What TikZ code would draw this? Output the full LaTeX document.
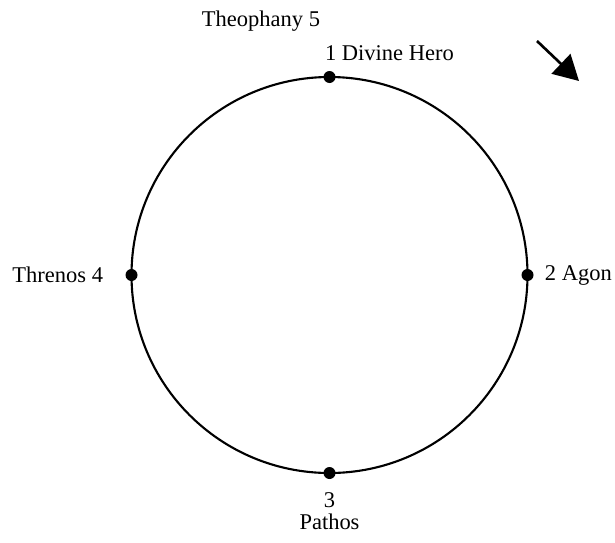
\documentclass[tikz,border=0pt]{standalone}
\usepackage{fontspec}
\setmainfont{Liberation Serif}
\usetikzlibrary{arrows.meta,positioning}
\begin{document}
\begin{tikzpicture}[every node/.style={font=\fontsize{12.8}{15}\selectfont,inner sep=1pt},
  stage/.style={circle,fill=black,inner sep=0pt,minimum size=0.24cm}]
\useasboundingbox (0,0) rectangle (12.3,10.84);
% cycle
\draw[line width=1.2pt] (6.59,5.34) circle (3.96);
\node[stage] (hero) at (6.59,9.30) {};
\node[stage] (agon) at (10.55,5.34) {};
\node[stage] (pathos) at (6.59,1.38) {};
\node[stage] (threnos) at (2.63,5.34) {};
% labels
\node[anchor=south west] (lhero) at (6.46,9.58) {1 Divine Hero};
\node[anchor=south] (ltheo) at (5.22,10.18) {Theophany 5};
\node[right=0.18cm of agon] (lagon) {2 Agon};
\node[left=0.4cm of threnos] (lthren) {Threnos 4};
\node[below=0.22cm of pathos] (lthree) {3};
\node[below=0.04cm of lthree] (lpathos) {Pathos};
% direction
\coordinate (a0) at (10.74,10.02);
\coordinate (a1) at (11.58,9.22);
\draw[line width=1.5pt,-{Triangle[length=0.5cm,width=0.54cm]}] (a0) -- (a1);
\end{tikzpicture}
\end{document}
